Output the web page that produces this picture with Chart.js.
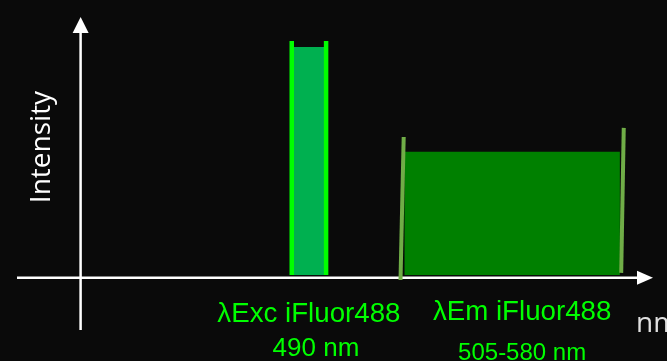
<!DOCTYPE html>
<html>
<head>
<meta charset="utf-8">
<script src="https://cdn.jsdelivr.net/npm/chart.js@4/dist/chart.umd.min.js"></script>
<style>
  html, body { margin: 0; padding: 0; background: #0a0a0a; }
  #wrap { width: 667px; height: 361px; }
</style>
</head>
<body>
<div id="wrap"><canvas id="chart" width="667" height="361"></canvas></div>
<script>
// schematic axis units: x runs along the wavelength arrow, y is intensity
const bandLabels = ["λExc iFluor488", "λEm iFluor488"];
const bandRanges = ["490 nm", "505-580 nm"];
const excBand = [33.2, 38.6];      // left / right edge of excitation bar
const excTop = 88.5;
const excEdgeTop = 90.8;
const emBand = [50.9, 84.8];       // left / right edge of emission bar
const emTop = 48.3;
const emEdgeX = [[50.8, 50.3], [85.4, 85.0]];   // top x, bottom x of each slanted edge
const emEdgeY = [[54.0, -0.8], [57.5, 1.9]];    // top y, bottom y
const barBase = 1.1;
const yAxisLabel = "Intensity";
const xAxisLabel = "nm";

const exc = "#00b050";
const excEdge = "#00ff00";
const em = "#008000";
const emEdge = "#70ad47";
const labelGreen = "#00ff00";

const axesPlugin = {
  id: "axes",
  beforeDatasetsDraw(chart) {
    const { ctx, chartArea: a, scales: { x, y } } = chart;
    const x0 = x.getPixelForValue(0);
    const y0 = y.getPixelForValue(0);
    ctx.save();
    ctx.strokeStyle = "#ffffff";
    ctx.fillStyle = "#ffffff";
    ctx.lineWidth = 2.5;
    // y axis
    ctx.beginPath();
    ctx.moveTo(x0, a.bottom);
    ctx.lineTo(x0, a.top + 14);
    ctx.stroke();
    ctx.beginPath();
    ctx.moveTo(x0, a.top);
    ctx.lineTo(x0 - 8, a.top + 16);
    ctx.lineTo(x0 + 8, a.top + 16);
    ctx.closePath();
    ctx.fill();
    // x axis
    ctx.beginPath();
    ctx.moveTo(a.left, y0);
    ctx.lineTo(a.right - 14, y0);
    ctx.stroke();
    ctx.beginPath();
    ctx.moveTo(a.right, y0);
    ctx.lineTo(a.right - 16, y0 - 7);
    ctx.lineTo(a.right - 16, y0 + 7);
    ctx.closePath();
    ctx.fill();
    ctx.restore();
  },
  afterDraw(chart) {
    const { ctx, scales: { x } } = chart;
    ctx.save();
    // y axis title
    ctx.fillStyle = "#ffffff";
    ctx.font = "28px 'Open Sans'";
    ctx.textAlign = "center";
    ctx.textBaseline = "alphabetic";
    ctx.translate(50, 147);
    ctx.rotate(-Math.PI / 2);
    ctx.fillText(yAxisLabel, 0, 0);
    ctx.restore();

    ctx.save();
    ctx.fillStyle = "#e0e0e0";
    ctx.font = "28px 'Open Sans'";
    ctx.textAlign = "left";
    ctx.fillText(xAxisLabel, 636, 332);

    // band labels
    ctx.fillStyle = labelGreen;
    ctx.textAlign = "center";
    const excC = x.getPixelForValue((excBand[0] + excBand[1]) / 2);
    const emC = x.getPixelForValue((emBand[0] + emBand[1]) / 2);
    ctx.font = "27.7px 'Liberation Sans', Arial, sans-serif";
    ctx.fillText(bandLabels[0], excC, 322);
    ctx.fillText(bandLabels[1], emC + 10, 320);
    ctx.font = "26px 'Liberation Sans', Arial, sans-serif";
    ctx.fillText(bandRanges[0], excC + 7, 356);
    ctx.font = "24px 'Liberation Sans', Arial, sans-serif";
    ctx.fillText(bandRanges[1], emC + 10, 360);
    ctx.restore();
  }
};

const pts = (xs, ys) => xs.map((v, i) => ({ x: v, y: ys[i] }));

new Chart(document.getElementById("chart"), {
  type: "line",
  data: {
    datasets: [
      {
        data: pts(excBand, [excTop, excTop]),
        borderWidth: 0,
        backgroundColor: exc,
        fill: { value: barBase },
        order: 2
      },
      {
        data: pts(emBand, [emTop, emTop]),
        borderWidth: 0,
        backgroundColor: em,
        fill: { value: barBase },
        order: 2
      },
      {
        data: pts([excBand[0], excBand[0]], [excEdgeTop, barBase]),
        borderColor: excEdge,
        borderWidth: 4.5,
        fill: false,
        order: 1
      },
      {
        data: pts([excBand[1], excBand[1]], [excEdgeTop, barBase]),
        borderColor: excEdge,
        borderWidth: 4.5,
        fill: false,
        order: 1
      },
      {
        data: pts(emEdgeX[0], emEdgeY[0]),
        borderColor: emEdge,
        borderWidth: 4,
        fill: false,
        order: 1
      },
      {
        data: pts(emEdgeX[1], emEdgeY[1]),
        borderColor: emEdge,
        borderWidth: 4,
        fill: false,
        order: 1
      }
    ]
  },
  options: {
    responsive: false,
    animation: false,
    layout: { padding: { left: 17, right: 14, top: 17, bottom: 31 } },
    elements: { point: { radius: 0 }, line: { tension: 0 } },
    scales: {
      x: { type: "linear", min: -10, max: 90, display: false },
      y: { type: "linear", min: -20, max: 100, display: false }
    },
    plugins: {
      legend: { display: false },
      tooltip: { enabled: false }
    }
  },
  plugins: [axesPlugin]
});
</script>
</body>
</html>
